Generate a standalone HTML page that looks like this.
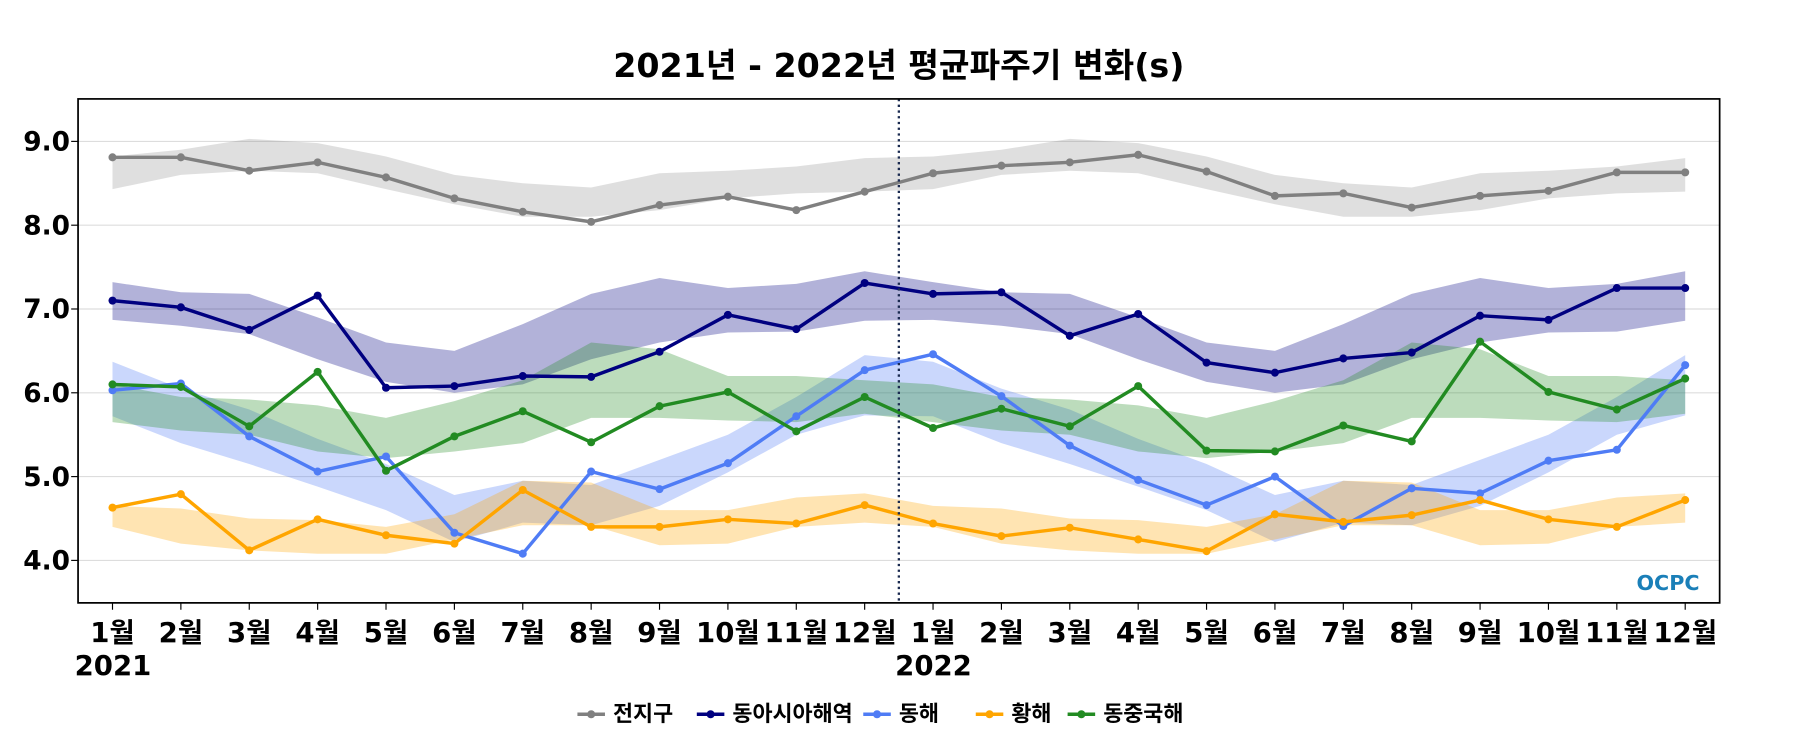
<!DOCTYPE html>
<html><head><meta charset="utf-8"><style>
body{margin:0;background:#fff;}
svg text{font-family:"DejaVu Sans","Noto Sans CJK KR",sans-serif;font-weight:bold;}
</style></head><body>
<svg id="chart" width="1800" height="750" viewBox="0 0 1568 653" xmlns="http://www.w3.org/2000/svg">
<text x="783" y="67" text-anchor="middle" font-size="29">2021년 - 2022년 평균파주기 변화(s)</text>
<g id="grid"></g><g id="bands"></g><g id="lines"></g><g id="axes"></g>
<rect x="68" y="86" width="1430" height="439" fill="none" stroke="#000" stroke-width="1.5"/>
<text x="1453" y="514" text-anchor="middle" font-size="18" fill="#1a7fb8">OCPC</text>
<g id="legend"></g>
</svg>
<script>
const months=['1월','2월','3월','4월','5월','6월','7월','8월','9월','10월','11월','12월'];
const years=['2021','2022'];
const yTicks=[4.0,5.0,6.0,7.0,8.0,9.0];
const seriesNames=['전지구','동아시아해역','동해','황해','동중국해'];
const seriesColors=['#808080','#000080','#4f7cf5','#ffa500','#228b22'];
const globalVals=[8.81,8.81,8.65,8.75,8.57,8.32,8.16,8.04,8.24,8.34,8.18,8.40,8.62,8.71,8.75,8.84,8.64,8.35,8.38,8.21,8.35,8.41,8.63,8.63];
const eastAsiaVals=[7.10,7.02,6.75,7.16,6.06,6.08,6.20,6.19,6.49,6.93,6.76,7.31,7.18,7.20,6.68,6.94,6.36,6.24,6.41,6.48,6.92,6.87,7.25,7.25];
const eastSeaVals=[6.03,6.11,5.48,5.06,5.24,4.33,4.08,5.06,4.85,5.16,5.72,6.27,6.46,5.96,5.37,4.96,4.66,5.00,4.41,4.86,4.80,5.19,5.32,6.33];
const yellowSeaVals=[4.63,4.79,4.12,4.49,4.30,4.20,4.84,4.40,4.40,4.49,4.44,4.66,4.44,4.29,4.39,4.25,4.11,4.55,4.46,4.54,4.72,4.49,4.40,4.72];
const ecsVals=[6.10,6.07,5.60,6.25,5.07,5.48,5.78,5.41,5.84,6.01,5.54,5.95,5.58,5.81,5.60,6.08,5.31,5.30,5.61,5.42,6.61,6.01,5.80,6.17];
const globalLo=[8.43,8.60,8.65,8.62,8.43,8.25,8.10,8.10,8.18,8.32,8.38,8.40];
const globalHi=[8.82,8.90,9.03,8.98,8.82,8.60,8.50,8.45,8.62,8.65,8.70,8.80];
const eastAsiaLo=[6.87,6.80,6.70,6.40,6.13,6.00,6.10,6.40,6.60,6.72,6.73,6.86];
const eastAsiaHi=[7.32,7.20,7.18,6.90,6.60,6.50,6.82,7.18,7.37,7.25,7.30,7.45];
const eastSeaLo=[5.72,5.40,5.15,4.88,4.60,4.22,4.45,4.42,4.65,5.05,5.50,5.73];
const eastSeaHi=[6.37,6.05,5.80,5.45,5.15,4.78,4.95,4.90,5.20,5.50,5.95,6.45];
const yellowSeaLo=[4.40,4.20,4.12,4.08,4.08,4.25,4.42,4.42,4.18,4.20,4.40,4.45];
const yellowSeaHi=[4.65,4.62,4.50,4.48,4.40,4.55,4.95,4.93,4.60,4.60,4.75,4.80];
const ecsLo=[5.65,5.55,5.50,5.30,5.22,5.30,5.40,5.70,5.70,5.67,5.65,5.75];
const ecsHi=[6.10,5.95,5.92,5.85,5.70,5.90,6.15,6.60,6.52,6.20,6.20,6.15];

const NS='http://www.w3.org/2000/svg';
const X=i=>98+i*(1370/23);
const Y=v=>488-(v-4)*73;
function mk(tag,attrs,parent){const e=document.createElementNS(NS,tag);for(const k in attrs)e.setAttribute(k,attrs[k]);parent.appendChild(e);return e;}
const grid=document.getElementById('grid'),bands=document.getElementById('bands'),lines=document.getElementById('lines'),axes=document.getElementById('axes'),legend=document.getElementById('legend');
yTicks.forEach(t=>{
  const g=mk('line',{x1:68,x2:1498,y1:Y(t),y2:Y(t),stroke:'#ddd','stroke-width':1},grid);
  
  
  mk('line',{x1:62,x2:68,y1:Y(t),y2:Y(t),stroke:'#000','stroke-width':1},axes);
  const tx=mk('text',{x:61,y:Y(t)+8,'text-anchor':'end','font-size':23},axes);
  tx.textContent=t.toFixed(1);
  
  
});
for(let i=0;i<24;i++){
  mk('line',{x1:X(i),x2:X(i),y1:525,y2:531,stroke:'#000','stroke-width':1},axes);
  const tx=mk('text',{x:X(i),y:559,'text-anchor':'middle','font-size':24},axes);
  tx.textContent=months[i%12];
  
  
}
years.forEach((yr,k)=>{
  const tx=mk('text',{x:X(k*12)-33,y:588,'font-size':24},axes);
  tx.textContent=yr;
  
  
});
const div=mk('line',{x1:X(11.5),x2:X(11.5),y1:86,y2:525,stroke:'#1a2a50','stroke-width':2,'stroke-dasharray':'2,3'},axes);


const los=[globalLo,eastAsiaLo,eastSeaLo,yellowSeaLo,ecsLo],his=[globalHi,eastAsiaHi,eastSeaHi,yellowSeaHi,ecsHi];
const vals=[globalVals,eastAsiaVals,eastSeaVals,yellowSeaVals,ecsVals];
const bandOp=[0.25,0.3,0.3,0.3,0.3];
for(let s=0;s<5;s++){
  let top=[],bot=[];
  for(let i=0;i<24;i++){top.push(X(i)+','+Y(his[s][i%12]));bot.unshift(X(i)+','+Y(los[s][i%12]));}
  const p=mk('polygon',{points:top.concat(bot).join(' '),fill:seriesColors[s],'fill-opacity':bandOp[s]},bands);
  
  
}
for(let s=0;s<5;s++){
  const pl=mk('polyline',{points:vals[s].map((v,i)=>X(i)+','+Y(v)).join(' '),fill:'none',stroke:seriesColors[s],'stroke-width':3},lines);
  
  
  vals[s].forEach((v,i)=>{
    const c=mk('circle',{cx:X(i),cy:Y(v),r:3.5,fill:seriesColors[s]},lines);
    
    
  });
}
const legX=[503,607,752,850,930];
for(let s=0;s<5;s++){
  const g=mk('g',{},legend);
  
  
  mk('line',{x1:legX[s],x2:legX[s]+24,y1:622,y2:622,stroke:seriesColors[s],'stroke-width':3},g);
  mk('circle',{cx:legX[s]+12,cy:622,r:3.5,fill:seriesColors[s]},g);
  const t=mk('text',{x:legX[s]+31,y:628,'font-size':19},g);
  t.textContent=seriesNames[s];
}
</script>
</body></html>
